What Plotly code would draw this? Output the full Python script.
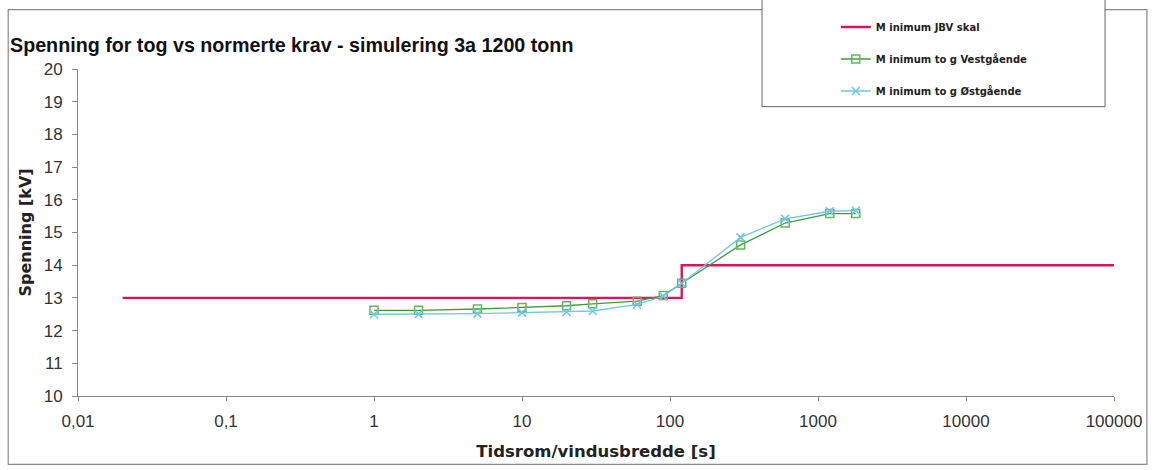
import plotly.graph_objects as go

# Data
jbv_x = [0.02, 120, 100000]
jbv_y = [13, 14, 14]

tog_x = [1, 2, 5, 10, 20, 30, 60, 90, 120, 300, 600, 1200, 1800]
vest_y = [12.62, 12.62, 12.66, 12.71, 12.76, 12.82, 12.9, 13.07, 13.45, 14.62, 15.29, 15.58, 15.58]
ost_y = [12.5, 12.5, 12.52, 12.55, 12.57, 12.6, 12.8, 13.05, 13.45, 14.85, 15.42, 15.65, 15.67]

xtick_vals = [0.01, 0.1, 1, 10, 100, 1000, 10000, 100000]
xtick_text = ["0,01", "0,1", "1", "10", "100", "1000", "10000", "100000"]
ytick_vals = [10, 11, 12, 13, 14, 15, 16, 17, 18, 19, 20]

FONT = "Arial, Liberation Sans, sans-serif"
WIDE = "DejaVu Sans, Verdana, sans-serif"
RED = "#D6175E"
GREEN = "#3E9B3E"
CYAN = "#6EC6E6"

fig = go.Figure()
fig.add_trace(go.Scatter(x=jbv_x, y=jbv_y, mode="lines", line_shape="hv",
                         line=dict(color=RED, width=2.4), name="M inimum JBV skal",
                         legendgroup="a"))
fig.add_trace(go.Scatter(x=tog_x, y=vest_y, mode="lines+markers",
                         line=dict(color=GREEN, width=1.3),
                         marker=dict(symbol="square-open", size=8, color="#5DB85D", line=dict(width=1.5)),
                         name="M inimum to g Vestgående", legendgroup="b"))
fig.add_trace(go.Scatter(x=tog_x, y=ost_y, mode="lines+markers",
                         line=dict(color=CYAN, width=1.3),
                         marker=dict(symbol="x-thin-open", size=8, color=CYAN, line=dict(width=1.5, color=CYAN)),
                         name="M inimum to g Østgående", legendgroup="c"))

W, H = 1154, 470
L, R, T, B = 78, 1117, 69, 399
pw, ph = R - L, B - T
def px(x):
    return (x - L) / pw
def py(y):
    return (B - y) / ph

shapes = [
    # outer chart frame
    dict(type="rect", xref="paper", yref="paper", x0=px(8), x1=px(1150), y0=py(468), y1=py(9),
         line=dict(color="#888888", width=1.2), fillcolor="rgba(0,0,0,0)", layer="below"),
    # legend frame
    dict(type="rect", xref="paper", yref="paper", x0=px(764), x1=px(1108), y0=py(107), y1=py(-5),
         line=dict(color="#666666", width=1), fillcolor="white", layer="above"),
]

fig.update_layout(
    width=W, height=H,
    margin=dict(l=L, r=W - R, t=T, b=H - B),
    paper_bgcolor="white", plot_bgcolor="white",
    font=dict(family=FONT, size=13, color="#333333"),
    title=dict(text="<b>Spenning for tog vs normerte krav - simulering 3a 1200 tonn</b>",
               x=10 / W, xanchor="left", xref="container",
               y=1 - 45 / H, yanchor="middle", yref="container",
               font=dict(family=FONT, size=19.7, color="#111111")),
    xaxis=dict(type="log", range=[-2, 5], tickvals=xtick_vals, ticktext=xtick_text,
               showgrid=False, zeroline=False, showline=True, linecolor="#888888", linewidth=1,
               ticks="outside", ticklen=4, tickcolor="#888888", ticklabelstandoff=6,
               ticklabeloverflow="allow",
               tickfont=dict(family=FONT, size=17, color="#333333"),
               title=dict(text="<b>Tidsrom/vindusbredde [s]</b>", standoff=15,
                          font=dict(family=WIDE, size=16.5, color="#222222"))),
    yaxis=dict(range=[10, 20], tickvals=ytick_vals, showgrid=False, zeroline=False,
               showline=True, linecolor="#888888", linewidth=1,
               ticks="outside", ticklen=5, tickcolor="#888888", ticklabelstandoff=6,
               tickfont=dict(family=FONT, size=17, color="#333333"),
               title=dict(text="<b>Spenning [kV]</b>", standoff=8,
                          font=dict(family=WIDE, size=16, color="#222222"))),
    shapes=shapes,
    showlegend=True,
    legend=dict(x=px(838), y=py(12), xanchor="left", yanchor="top",
                bgcolor="rgba(0,0,0,0)", borderwidth=0,
                traceorder="grouped", tracegroupgap=13,
                font=dict(family=WIDE, size=10, color="#222222", weight="bold"),
                itemwidth=30),
)

fig.write_html("out.html")
